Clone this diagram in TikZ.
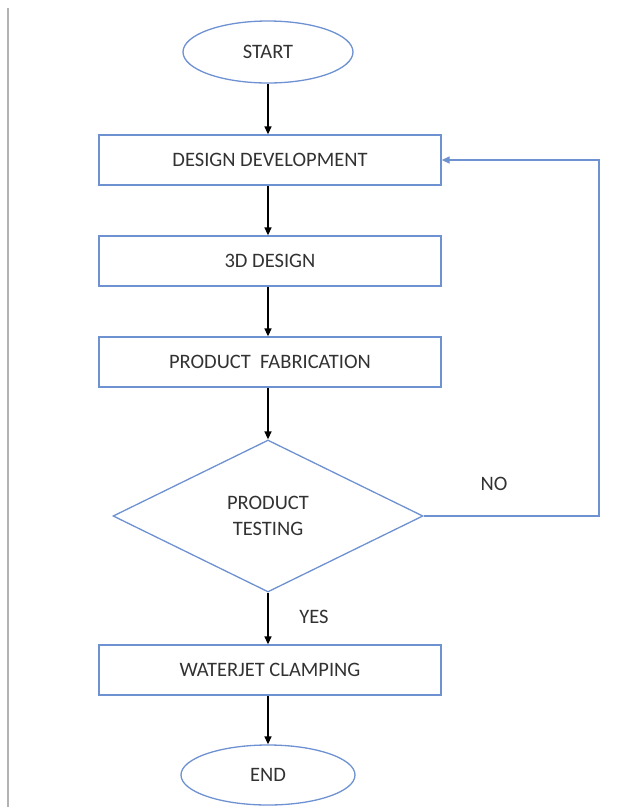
\documentclass[tikz,border=0pt]{standalone}
\usepackage{fontspec}
\setmainfont{Carlito}
\usetikzlibrary{arrows.meta, shapes.geometric, positioning}
\definecolor{boxblue}{RGB}{110,145,210}
\definecolor{txtgray}{RGB}{50,50,50}
\tikzset{
  stepbox/.style={draw=boxblue, line width=1.3pt, minimum width=342pt, minimum height=50pt, inner sep=0pt},
  terminal/.style={ellipse, draw=boxblue, line width=1.3pt, minimum width=170pt, minimum height=62pt, inner sep=0pt},
  decision/.style={diamond, draw=boxblue, line width=1.3pt, minimum width=310pt, minimum height=152pt, inner sep=0pt, align=center},
  flow/.style={-{Triangle[length=8pt,width=7pt]}, line width=1.3pt, black},
  loopback/.style={-{Triangle[length=8pt,width=7pt]}, line width=1.3pt, boxblue}
}
\begin{document}
\begin{tikzpicture}[x=1pt, y=-1pt, font=\fontsize{20.5}{23}\selectfont, text=txtgray]
		
		% frame of the page
		\useasboundingbox (0,0) rectangle (622,807);
		\draw[gray!60, line width=2pt] (8,8) -- (8,807);
		
		% 1. steps of the flow
		\node[terminal] (start) at (268,52) {START};
		\node[stepbox] (design) at (270,160) {DESIGN DEVELOPMENT};
		\node[stepbox] (cad) at (270,261) {3D DESIGN};
		\node[stepbox] (fab) at (270,362) {PRODUCT\ \ FABRICATION};
		\node[decision] (test) at (268,516) {PRODUCT\\[3pt]TESTING};
		\node[stepbox] (clamp) at (270,670) {WATERJET CLAMPING};
		\node[terminal, minimum width=174pt, minimum height=60pt] (finish) at (268,775) {END};
		
		% 2. main arrows
		\draw[flow] (start) -- (start |- design.north);
		\draw[flow] (design.south -| start) -- (start |- cad.north);
		\draw[flow] (cad.south -| start) -- (start |- fab.north);
		\draw[flow] (fab.south -| start) -- (test.north);
		\draw[flow] (test.south) -- (test |- clamp.north);
		\draw[flow] (clamp.south -| test) -- (finish.north);
		
		% 3. loop back when the test fails
		\coordinate (corner) at (599,516);
		\draw[loopback] (test.east) -- (corner) |- (design.east);
		
		% 4. answers
		\node at (494,484) {NO};
		\node at (314,617) {YES};
		
	\end{tikzpicture}
\end{document}
